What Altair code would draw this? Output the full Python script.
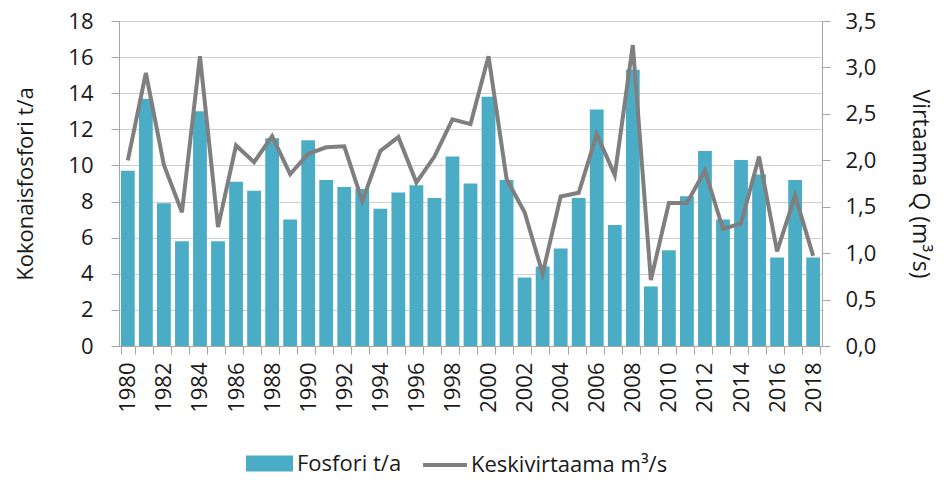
import altair as alt
import pandas as pd

years = [str(y) for y in range(1980, 2019)]
fosfori = [9.7, 13.7, 7.9, 5.8, 13.0, 5.8, 9.1, 8.6, 11.5, 7.0,
           11.4, 9.2, 8.8, 8.7, 7.6, 8.5, 8.9, 8.2, 10.5, 9.0,
           13.8, 9.2, 3.8, 4.4, 5.4, 8.2, 13.1, 6.7, 15.3, 3.3,
           5.3, 8.3, 10.8, 7.0, 10.3, 9.5, 4.9, 9.2, 4.9]
virtaama = [2.00, 2.94, 1.95, 1.44, 3.12, 1.28, 2.16, 1.98, 2.26, 1.85,
            2.07, 2.14, 2.15, 1.56, 2.10, 2.25, 1.76, 2.04, 2.44, 2.39,
            3.12, 1.80, 1.44, 0.78, 1.61, 1.65, 2.28, 1.84, 3.24, 0.71,
            1.54, 1.54, 1.89, 1.26, 1.32, 2.04, 1.02, 1.62, 0.97]
bar_name = "Fosfori t/a"
line_name = "Keskivirtaama m³/s"
left_ticks = [0, 2, 4, 6, 8, 10, 12, 14, 16, 18]
right_ticks = [0, 0.5, 1, 1.5, 2, 2.5, 3, 3.5]

df = pd.DataFrame({"year": years, "P": fosfori, "Q": virtaama,
                   "Pn": bar_name, "Qn": line_name})

FONT = "Open Sans"
AX = "#a6a6a6"
TXT = "#1a1a1a"

x_enc = alt.X("year:O", title=None,
              scale=alt.Scale(paddingInner=0.24, paddingOuter=0.11),
              axis=alt.Axis(labelAngle=270, tickBand="extent", labelOverlap=False,
                            labelExpr="toNumber(datum.value) % 2 == 0 ? datum.label : ''",
                            domainColor=AX, tickColor=AX, tickSize=8, labelPadding=8,
                            labelFontSize=22, labelColor=TXT, labelFont=FONT))

bars = alt.Chart(df).mark_bar(size=13.8).encode(
    x=x_enc,
    y=alt.Y("P:Q", scale=alt.Scale(domain=[0, 18], nice=False),
            axis=alt.Axis(values=left_ticks, title="Kokonaisfosfori t/a", grid=True,
                          gridColor="#d0d0d0", domainColor=AX, tickColor=AX, tickSize=8,
                          labelPadding=18, labelFontSize=22, labelColor=TXT, labelFont=FONT,
                          titleFontSize=22, titleFontWeight="normal", titleColor=TXT,
                          titleFont=FONT, titlePadding=30)),
    fill=alt.Fill("Pn:N", scale=alt.Scale(range=["#4bacc6"]),
                  legend=alt.Legend(title=None, orient="none", legendX=127, legendY=419,
                                    symbolType="M-1,-0.34H1V0.34H-1Z", symbolSize=2209,
                                    symbolStrokeWidth=0, labelFontSize=22, labelFont=FONT,
                                    labelColor=TXT, labelOffset=4, labelLimit=400)),
)

line = alt.Chart(df).mark_line(strokeWidth=4).encode(
    x=alt.X("year:O"),
    y=alt.Y("Q:Q", scale=alt.Scale(domain=[0, 3.5], nice=False),
            axis=alt.Axis(orient="right", values=right_ticks, title="Virtaama Q (m³/s)",
                          grid=False, domainColor=AX, tickColor=AX, tickSize=8,
                          labelExpr="replace(format(datum.value, '.1f'), '.', ',')",
                          labelPadding=15, labelFontSize=22, labelColor=TXT, labelFont=FONT,
                          titleFontSize=23, titleFontWeight="normal", titleColor=TXT,
                          titleFont=FONT, titleAngle=90, titlePadding=32)),
    stroke=alt.Stroke("Qn:N", scale=alt.Scale(range=["#7f7f7f"]),
                      legend=alt.Legend(title=None, orient="none", legendX=302, legendY=420,
                                        symbolType="stroke", symbolSize=1936,
                                        symbolStrokeWidth=4, labelFontSize=22,
                                        labelFont=FONT, labelColor=TXT, labelOffset=2,
                                        labelLimit=400)),
)

chart = alt.layer(bars, line).resolve_scale(y="independent", fill="independent",
                                            stroke="independent").properties(
    width=703, height=325,
    autosize=alt.AutoSizeParams(type="none"),
    padding={"left": 111, "top": 13, "right": 114, "bottom": 130},
).configure_view(stroke=None).configure(font=FONT)

chart.save("out.html", embed_options={"renderer": "svg", "actions": False})
